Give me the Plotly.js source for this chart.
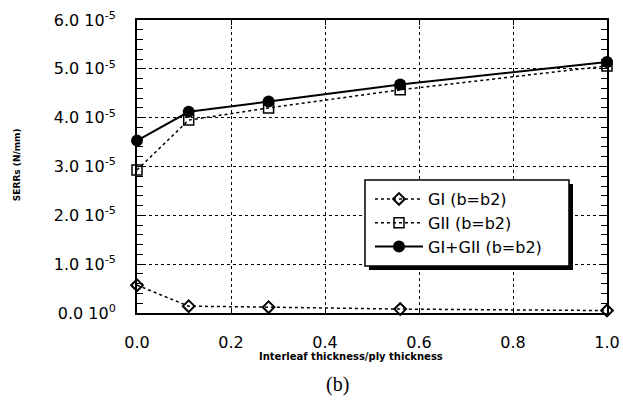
<!DOCTYPE html>
<html>
<head>
<meta charset="utf-8">
<script src="https://cdn.plot.ly/plotly-3.0.1.min.js"></script>
<style>html,body{margin:0;padding:0;background:#fff;}#chart{width:623px;height:411px;}</style>
</head>
<body>
<div id="chart"></div>
<script>
// Data
const thickness = [0.0, 0.11, 0.28, 0.56, 1.0];
const GI      = [0.57e-5, 0.14e-5, 0.12e-5, 0.08e-5, 0.05e-5];
const GII     = [2.93e-5, 3.95e-5, 4.20e-5, 4.57e-5, 5.06e-5];
const GItotal = [3.53e-5, 4.12e-5, 4.33e-5, 4.68e-5, 5.14e-5];
const seriesNames = ["GI (b=b2)", "GII (b=b2)", "GI+GII (b=b2)"];
const yTickVals = [0, 1e-5, 2e-5, 3e-5, 4e-5, 5e-5, 6e-5];
const yTickText = ["0.0&nbsp;10<sup>0</sup>", "1.0&nbsp;10<sup>-5</sup>", "2.0&nbsp;10<sup>-5</sup>",
  "3.0&nbsp;10<sup>-5</sup>", "4.0&nbsp;10<sup>-5</sup>", "5.0&nbsp;10<sup>-5</sup>", "6.0&nbsp;10<sup>-5</sup>"];
const xTickVals = [0, 0.2, 0.4, 0.6, 0.8, 1.0];
const xTitle = "Interleaf thickness/ply thickness";
const yTitle = "SERRs (N/mm)";
const caption = "(b)";

const traces = [
  {x: thickness, y: GI, name: seriesNames[0], mode: "lines+markers", cliponaxis: false,
   line: {color: "#000", width: 1.5, dash: "dot"},
   marker: {symbol: "diamond-open", size: 9, color: "#000", line: {width: 2, color: "#000"}}},
  {x: thickness, y: GII, name: seriesNames[1], mode: "lines+markers", cliponaxis: false,
   line: {color: "#000", width: 1.5, dash: "dot"},
   marker: {symbol: "square-open", size: 10, color: "#000", line: {width: 1.5, color: "#000"}}},
  {x: thickness, y: GItotal, name: seriesNames[2], mode: "lines+markers", cliponaxis: false,
   line: {color: "#000", width: 2},
   marker: {symbol: "circle", size: 12, color: "#000"}}
];

const font = {family: "DejaVu Sans", size: 16, color: "#000"};

const layout = {
  width: 623, height: 411,
  margin: {l: 137, r: 16, t: 20, b: 98},
  paper_bgcolor: "#fff", plot_bgcolor: "#fff",
  font: font,
  showlegend: true,
  legend: {x: 0.4957, y: 0.447, xanchor: "left", yanchor: "top",
    bgcolor: "rgba(0,0,0,0)", borderwidth: 0,
    font: {family: "DejaVu Sans", size: 16, color: "#000"},
    tracegroupgap: 0, itemwidth: 48},
  xaxis: {range: [0, 1], tickvals: xTickVals, tickformat: ".1f",
    showline: true, linecolor: "#000", linewidth: 2, mirror: "ticks",
    ticks: "inside", ticklen: 5, tickwidth: 1, tickcolor: "#000",
    showgrid: true, gridcolor: "#000", gridwidth: 1, griddash: "dot",
    zeroline: false, ticklabelstandoff: 14, tickfont: font},
  yaxis: {range: [0, 6e-5], tickvals: yTickVals, ticktext: yTickText,
    showline: true, linecolor: "#000", linewidth: 2, mirror: "ticks",
    ticks: "inside", ticklen: 6, tickwidth: 1, tickcolor: "#000",
    minor: {dtick: 2e-6, ticks: "inside", ticklen: 6, tickwidth: 1, tickcolor: "#000", showgrid: false},
    showgrid: true, gridcolor: "#000", gridwidth: 1, griddash: "dot",
    zeroline: false, ticklabelstandoff: 16, tickfont: font},
  shapes: [
    {type: "rect", xref: "paper", yref: "paper", layer: "above",
     x0: 0.4936, x1: 0.9277, y0: 0.1468, y1: 0.4403,
     fillcolor: "#000", line: {width: 0}},
    {type: "rect", xref: "paper", yref: "paper", layer: "above",
     x0: 0.4851, x1: 0.9191, y0: 0.1604, y1: 0.4539,
     fillcolor: "#fff", line: {width: 1.5, color: "#000"}}
  ],
  annotations: [
    {text: "<b>" + xTitle + "</b>", xref: "paper", yref: "paper", x: 0.455, y: -0.15,
     xanchor: "center", yanchor: "middle", showarrow: false,
     font: {family: "DejaVu Sans", size: 10, color: "#000"}},
    {text: "<b>" + yTitle + "</b>", xref: "paper", yref: "paper", x: -0.255, y: 0.505,
     xanchor: "center", yanchor: "middle", showarrow: false, textangle: -90,
     font: {family: "DejaVu Sans", size: 9, color: "#000"}},
    {text: caption, xref: "paper", yref: "paper", x: 0.427, y: -0.245,
     xanchor: "center", yanchor: "middle", showarrow: false,
     font: {family: "Liberation Serif", size: 20, color: "#000"}}
  ]
};

Plotly.newPlot("chart", traces, layout, {displayModeBar: false, staticPlot: true});
</script>
</body>
</html>
